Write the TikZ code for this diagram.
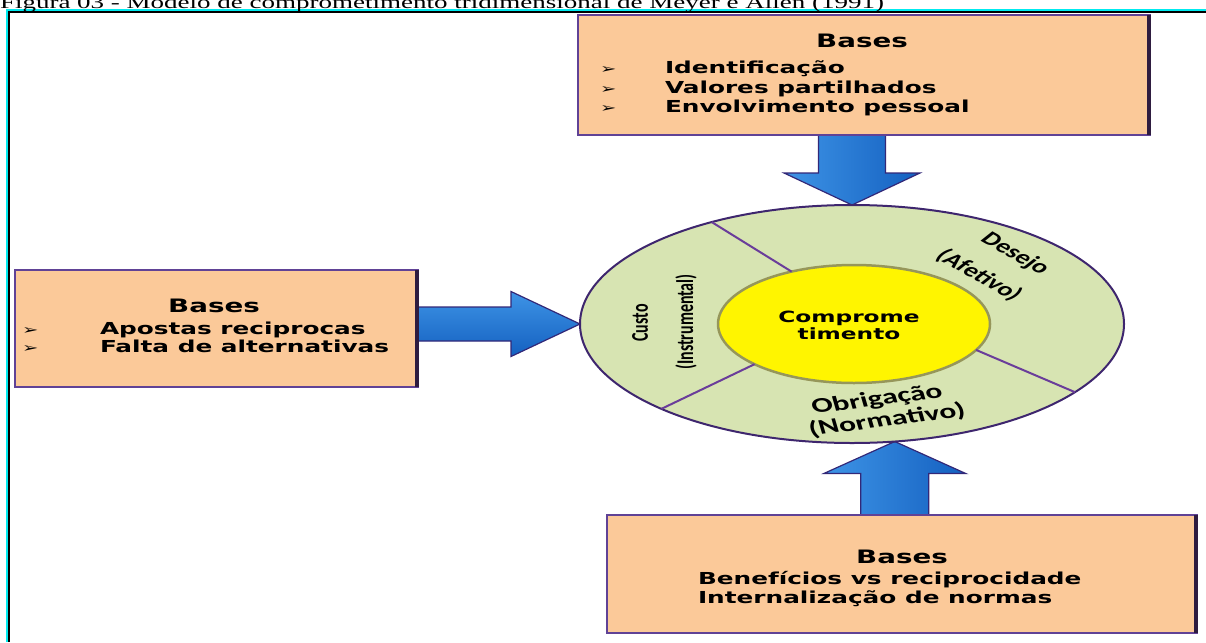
\documentclass[tikz,border=0pt]{standalone}
\usepackage{fontspec}
\setmainfont{Liberation Serif}
\newfontfamily\boxfont{DejaVu Sans}
\newfontfamily\calfont{Carlito}
\usetikzlibrary{shapes.geometric,calc,backgrounds}

\definecolor{peach}{RGB}{251,201,153}
\definecolor{boxline}{RGB}{96,66,150}
\definecolor{boxshade}{RGB}{46,28,64}
\definecolor{ringfill}{RGB}{215,228,178}
\definecolor{ringline}{RGB}{62,38,110}
\definecolor{coreyellow}{RGB}{255,245,0}
\definecolor{corerim}{RGB}{150,150,90}
\definecolor{divider}{RGB}{106,61,154}
\definecolor{arrowlight}{RGB}{62,148,230}
\definecolor{arrowdark}{RGB}{20,96,192}
\definecolor{arrowline}{RGB}{50,40,120}
\definecolor{framecyan}{RGB}{0,235,240}

% block arrow: #1 base point, #2 tip, #3 shaft half width, #4 head half width, #5 head length, #6 style
\newcommand\blockarrow[6]{%
  \coordinate (ba-neck) at ($(#2)!#5!(#1)$);
  \path[#6] ($(#1)!#3!90:(#2)$) -- ($(ba-neck)!#3!90:(#2)$) -- ($(ba-neck)!#4!90:(#2)$)
    -- (#2) -- ($(ba-neck)!#4!-90:(#2)$) -- ($(ba-neck)!#3!-90:(#2)$) -- ($(#1)!#3!-90:(#2)$) -- cycle;
}

\begin{document}
\begin{tikzpicture}[x=1pt,y=-1pt,
  stretched/.style={xscale=1.5, inner sep=0pt, outer sep=0pt},
  basebox/.style={rectangle, draw=boxline, line width=2.2pt, fill=peach, inner sep=0pt, outer sep=0pt},
  boxedge/.style={boxshade, line width=4pt},
  headtext/.style={stretched, font=\boxfont\bfseries\fontsize{18.5}{20}\selectfont, anchor=base},
  itemtext/.style={stretched, font=\boxfont\bfseries\fontsize{16.5}{18}\selectfont, anchor=base west},
  bullettext/.style={stretched, font=\boxfont\fontsize{13}{14}\selectfont, anchor=base west},
  ringtext/.style={stretched, font=\calfont\bfseries\fontsize{16}{18}\selectfont, anchor=center},
  arrowstyle/.style={draw=arrowline, line width=1.2pt},
]
\useasboundingbox (0,0) rectangle (1206,642);
\clip (0,0) rectangle (1206,642);

% caption
\node[stretched, font=\fontsize{18}{20}\selectfont, anchor=base west] (caption) at (0,8.5)
  {Figura 03 - Modelo de comprometimento tridimensional de Meyer e Allen (1991)};

% the three boxes of bases
\node[basebox, minimum width=572pt, minimum height=120pt] (topbox) at (864,75) {};
\draw[boxedge] ([xshift=-1pt]topbox.north east) -- ([xshift=-1pt]topbox.south east);
\node[basebox, minimum width=403pt, minimum height=117pt] (leftbox) at (216.5,328.5) {};
\draw[boxedge] ([xshift=-1pt]leftbox.north east) -- ([xshift=-1pt]leftbox.south east);
\node[basebox, minimum width=590pt, minimum height=118pt] (botbox) at (902,574) {};
\draw[boxedge] ([xshift=-1pt]botbox.north east) -- ([xshift=-1pt]botbox.south east);

% top box text
\node[headtext] (tb-title) at (862,48) {Bases};
\node[bullettext] (tb-b1) at (600,74) {➢};
\node[bullettext] (tb-b2) at (600,93) {➢};
\node[bullettext] (tb-b3) at (600,112) {➢};
\node[itemtext] (tb-i1) at (665,74) {Identificação};
\node[itemtext] (tb-i2) at (665,93) {Valores partilhados};
\node[itemtext] (tb-i3) at (665,112) {Envolvimento pessoal};

% left box text
\node[headtext] (lb-title) at (214,312) {Bases};
\node[bullettext] (lb-b1) at (22,334) {➢};
\node[bullettext] (lb-b2) at (22,352) {➢};
\node[itemtext] (lb-i1) at (100,334) {Apostas reciprocas};
\node[itemtext] (lb-i2) at (100,352) {Falta de alternativas};

% bottom box text
\node[headtext] (bb-title) at (902,563) {Bases};
\node[itemtext] (bb-i1) at (698,584) {Benefícios vs reciprocidade};
\node[itemtext] (bb-i2) at (698,603) {Internalização de normas};

% ring and core
\node[ellipse, draw=ringline, line width=2pt, fill=ringfill, minimum width=544pt,
      minimum height=238pt, inner sep=0pt, outer sep=0pt] (outer) at (852,324) {};
\node[ellipse, draw=corerim, line width=2.5pt, fill=coreyellow, minimum width=272pt,
      minimum height=118pt, inner sep=0pt, outer sep=0pt] (core) at (854,324) {};
\draw[divider, line width=2pt] (outer.144) -- (core.140);
\draw[divider, line width=2pt] (outer.204) -- (core.202);
\draw[divider, line width=2pt] (outer.343) -- (core.348);

\node[stretched, font=\boxfont\bfseries\fontsize{15.5}{17}\selectfont, align=center] (coretext)
  at (849,325) {Comprome\\timento};

\node[ringtext, rotate=90] (custo) at (640,323) {Custo};
\node[ringtext, rotate=90] (instr) at (686,322) {(Instrumental)};
\node[ringtext, font=\calfont\bfseries\fontsize{19}{21}\selectfont, rotate=-40] (desejo) at (1015,254) {Desejo};
\node[ringtext, font=\calfont\bfseries\fontsize{19}{21}\selectfont, rotate=-40] (afetivo) at (979,275) {(Afetivo)};
\node[ringtext, font=\calfont\bfseries\fontsize{21}{23}\selectfont, rotate=11] (obrig) at (877,400) {Obrigação};
\node[ringtext, font=\calfont\bfseries\fontsize{21}{23}\selectfont, rotate=11] (normat) at (887,420) {(Normativo)};

\begin{scope}[on background layer]
  % page frame
  \draw[framecyan, line width=2pt] (7,642) -- (7,10.5) -- (1206,10.5);
  \draw[black, line width=2pt] (9.3,642) -- (9.3,12.5) -- (1206,12.5);
  % arrows from the boxes into the ring
  \coordinate (ta-base) at (topbox.south -| outer.north);
  \blockarrow{ta-base}{outer.north}{33.5pt}{68pt}{32pt}{arrowstyle, left color=arrowlight, right color=arrowdark}
  \coordinate (la-base) at (leftbox.east |- outer.west);
  \blockarrow{la-base}{outer.west}{17pt}{32.5pt}{69pt}{arrowstyle, top color=arrowlight, bottom color=arrowdark}
  \coordinate (ba-base) at (botbox.north -| outer.290);
  \blockarrow{ba-base}{outer.290}{34pt}{71pt}{32pt}{arrowstyle, left color=arrowlight, right color=arrowdark}
\end{scope}
\end{tikzpicture}
\end{document}
